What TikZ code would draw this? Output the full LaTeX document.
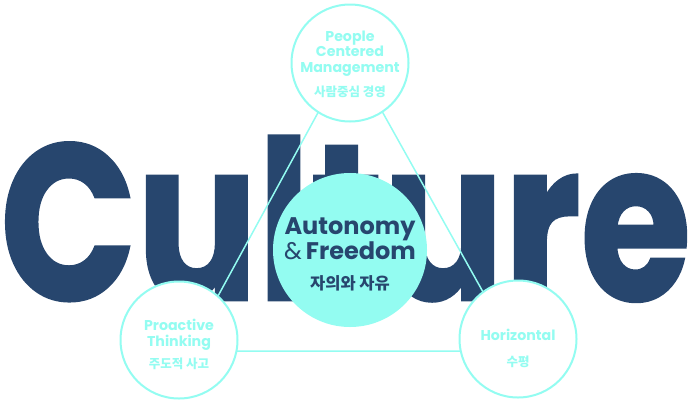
\documentclass[tikz,border=0pt]{standalone}
\usepackage{fontspec}
\newfontfamily\poppins{Poppins}
\newfontfamily\poppinsheavy{Poppins}[FakeBold=1.3]
\newfontfamily\kr{Noto Sans CJK KR}
\definecolor{navy}{HTML}{27466E}
\definecolor{aqua}{HTML}{93FCF1}

\begin{document}
\begin{tikzpicture}[x=1pt,y=-1pt,
  ring/.style={circle,draw=aqua,line width=2pt,fill=white,minimum size=117pt,inner sep=0pt,align=center,text=aqua},
  hub/.style={circle,fill=aqua,minimum size=154pt,inner sep=0pt,align=center,text=navy},
  en/.style={inner sep=0pt,font=\poppins\bfseries\fontsize{14.2}{15.8}\selectfont},
  ko/.style={inner sep=0pt,font=\kr\bfseries\fontsize{12.5}{14}\selectfont}]
  \useasboundingbox (0,0) rectangle (690,402);
  % big word behind everything
  \node[anchor=base west,inner sep=0pt,text=navy] (word) at (0,300)
     {\resizebox{690pt}{164pt}{\poppinsheavy\bfseries Culture}};
  % triangle
  \coordinate (apex) at (350,54);
  \coordinate (lcorner) at (188,351);
  \coordinate (rcorner) at (516,351);
  \draw[aqua,line width=1.5pt] (apex) -- (lcorner) -- (rcorner) -- cycle;
  % circles
  \node[ring] (people) at (350,63) {};
  \node[ring] (proactive) at (179,340) {};
  \node[ring] (horizontal) at (518,339) {};
  \node[hub] (autonomy) at (350,250) {};
  % labels
  \node[en,text=aqua,align=center,anchor=base] (peopletxt) at (350,72.7) {People\\Centered\\Management};
  \node[ko,text=aqua,anchor=base] (peopleko) at (350,96) {사람중심 경영};
  \node[en,text=aqua,align=center,anchor=base] (proactivetxt) at (179,346.7) {Proactive\\Thinking};
  \node[ko,text=aqua,anchor=base] (proactiveko) at (179,368) {주도적 사고};
  \node[en,text=aqua,anchor=base] (horizontaltxt) at (518,340.7) {Horizontal};
  \node[ko,text=aqua,anchor=base] (horizontalko) at (518,366) {수평};
  \node[inner sep=0pt,text=navy,align=center,anchor=base,font=\poppins\fontsize{24}{21.6}\selectfont] (autonomytxt) at (350,259.3)
     {\bfseries Autonomy\\\mdseries\&\,\bfseries Freedom};
  \node[inner sep=0pt,text=navy,anchor=base,font=\kr\bfseries\fontsize{16.5}{18}\selectfont] (autonomyko) at (350,289) {자의와 자유};
\end{tikzpicture}
\end{document}
